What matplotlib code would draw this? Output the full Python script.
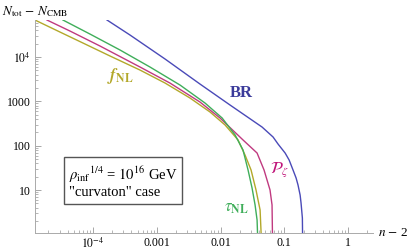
import matplotlib
matplotlib.use("Agg")
import matplotlib.pyplot as plt
import numpy as np

plt.rcParams['font.family'] = ['Liberation Serif', 'DejaVu Serif']
plt.rcParams['mathtext.fontset'] = 'stix'

# values (n - 2, N_tot - N_CMB)
br_x = [1.66e-4, 3.80e-4, 1.35e-3, 4.76e-3, 0.0141, 0.0448, 0.0667, 0.0798, 0.103, 0.119, 0.137, 0.153, 0.164, 0.177, 0.183, 0.192, 0.197]
br_y = [6.88e4, 3.16e4, 9060, 2470, 829, 264, 157, 109, 68.4, 47.6, 28.3, 18.7, 13.0, 7.7, 5.09, 2.33, 0.1]

fnl_x = [1.23e-5, 3.03e-5, 7.49e-5, 1.85e-4, 5.46e-4, 1.35e-3, 3.33e-3, 6.84e-3, 0.0118, 0.0188, 0.0242, 0.0301, 0.0360, 0.0417, 0.0465]
fnl_y = [6.88e4, 3.69e4, 1.98e4, 1.06e4, 5110, 2600, 1190, 577, 293, 135, 61.7, 28.3, 10.0, 3.54, 0.1]

pz_x = [1.90e-5, 4.36e-5, 1.29e-4, 5.46e-4, 1.61e-3, 4.76e-3, 9.82e-3, 0.0225, 0.0374, 0.0481, 0.0597, 0.0642, 0.0667]
pz_y = [6.88e4, 3.88e4, 1.78e4, 5980, 2600, 969, 422, 135, 68.4, 28.3, 10.0, 4.59, 0.1]

tnl_x = [3.38e-5, 8.97e-5, 2.65e-4, 7.83e-4, 2.32e-3, 5.71e-3, 0.0106, 0.0169, 0.0225, 0.0270, 0.0312, 0.0348, 0.0374, 0.0402]
tnl_y = [6.88e4, 3.32e4, 1.45e4, 5980, 2340, 920, 422, 175, 80, 28.3, 11.1, 4.59, 2.1, 0.1]

xticks = [1e-4, 1e-3, 1e-2, 1e-1, 1]
xlabels = ['$10^{-4}$', '0.001', '0.01', '0.1', '1']
yticks = [10, 100, 1000, 1e4]
ylabels = ['10', '100', '1000', '$10^4$']

c_br = '#4a4ab8'
c_fnl = '#b3a82a'
c_pz = '#c03a80'
c_tnl = '#3fae5a'

fig = plt.figure(figsize=(4.09, 2.52), dpi=100)
ax = fig.add_axes([35/409, 1-233/252, 338/409, 213/252])

ax.plot(br_x, br_y, color=c_br, lw=1.0)
ax.plot(fnl_x, fnl_y, color=c_fnl, lw=1.0)
ax.plot(pz_x, pz_y, color=c_pz, lw=1.0)
ax.plot(tnl_x, tnl_y, color=c_tnl, lw=1.0)

ax.set_xscale('log')
ax.set_yscale('log')
ax.set_xlim(1.23e-5, 2.46)
ax.set_ylim(1.07, 6.9e4)

ax.set_xticks(xticks)
ax.set_xticklabels(xlabels)
ax.set_yticks(yticks)
ax.set_yticklabels(ylabels)
ax.tick_params(which='both', direction='in', color='#999999', labelsize=8.5, pad=3)
ax.tick_params(which='major', length=4, width=0.6)
ax.tick_params(which='minor', length=2, width=0.5)

for s in ['top', 'right']:
    ax.spines[s].set_visible(False)
for s in ['left', 'bottom']:
    ax.spines[s].set_color('#aaaaaa')
    ax.spines[s].set_linewidth(0.7)

ax.text(2.65e-4, 3740, r'$\boldsymbol{f}_{\mathbf{NL}}$', color=c_fnl, fontsize=12,
        ha='center', va='center')
ax.text(0.021, 1550, 'BR', color='#3a3a9a', fontsize=12, fontweight='bold',
        ha='center', va='center')
ax.text(0.083, 28.3, r'$\mathcal{P}_\zeta$', color='#c0157a', fontsize=12,
        ha='center', va='center')
ax.text(0.0175, 3.93, r'$\tau_{\mathbf{NL}}$', color=c_tnl, fontsize=12,
        ha='center', va='center')

ax.text(0.26, 0.24, '$\\rho_{\\rm inf}{}^{1/4}$ = $10^{16}$ GeV\n"curvaton" case',
        transform=ax.transAxes, fontsize=10.5, ha='center', va='center',
        multialignment='left', linespacing=1.1,
        bbox=dict(boxstyle='square,pad=0.35', fc='white', ec='#555555', lw=1))

fig.text(2/409, 1-12/252, '$N_{\\rm tot}$ $-$ $N_{\\rm CMB}$', fontsize=9.5,
         ha='left', va='center')
fig.text(378/409, 1-233/252, '$n$ $-$ 2', fontsize=9.5, ha='left', va='center')

fig.savefig('out.png', dpi=100)
